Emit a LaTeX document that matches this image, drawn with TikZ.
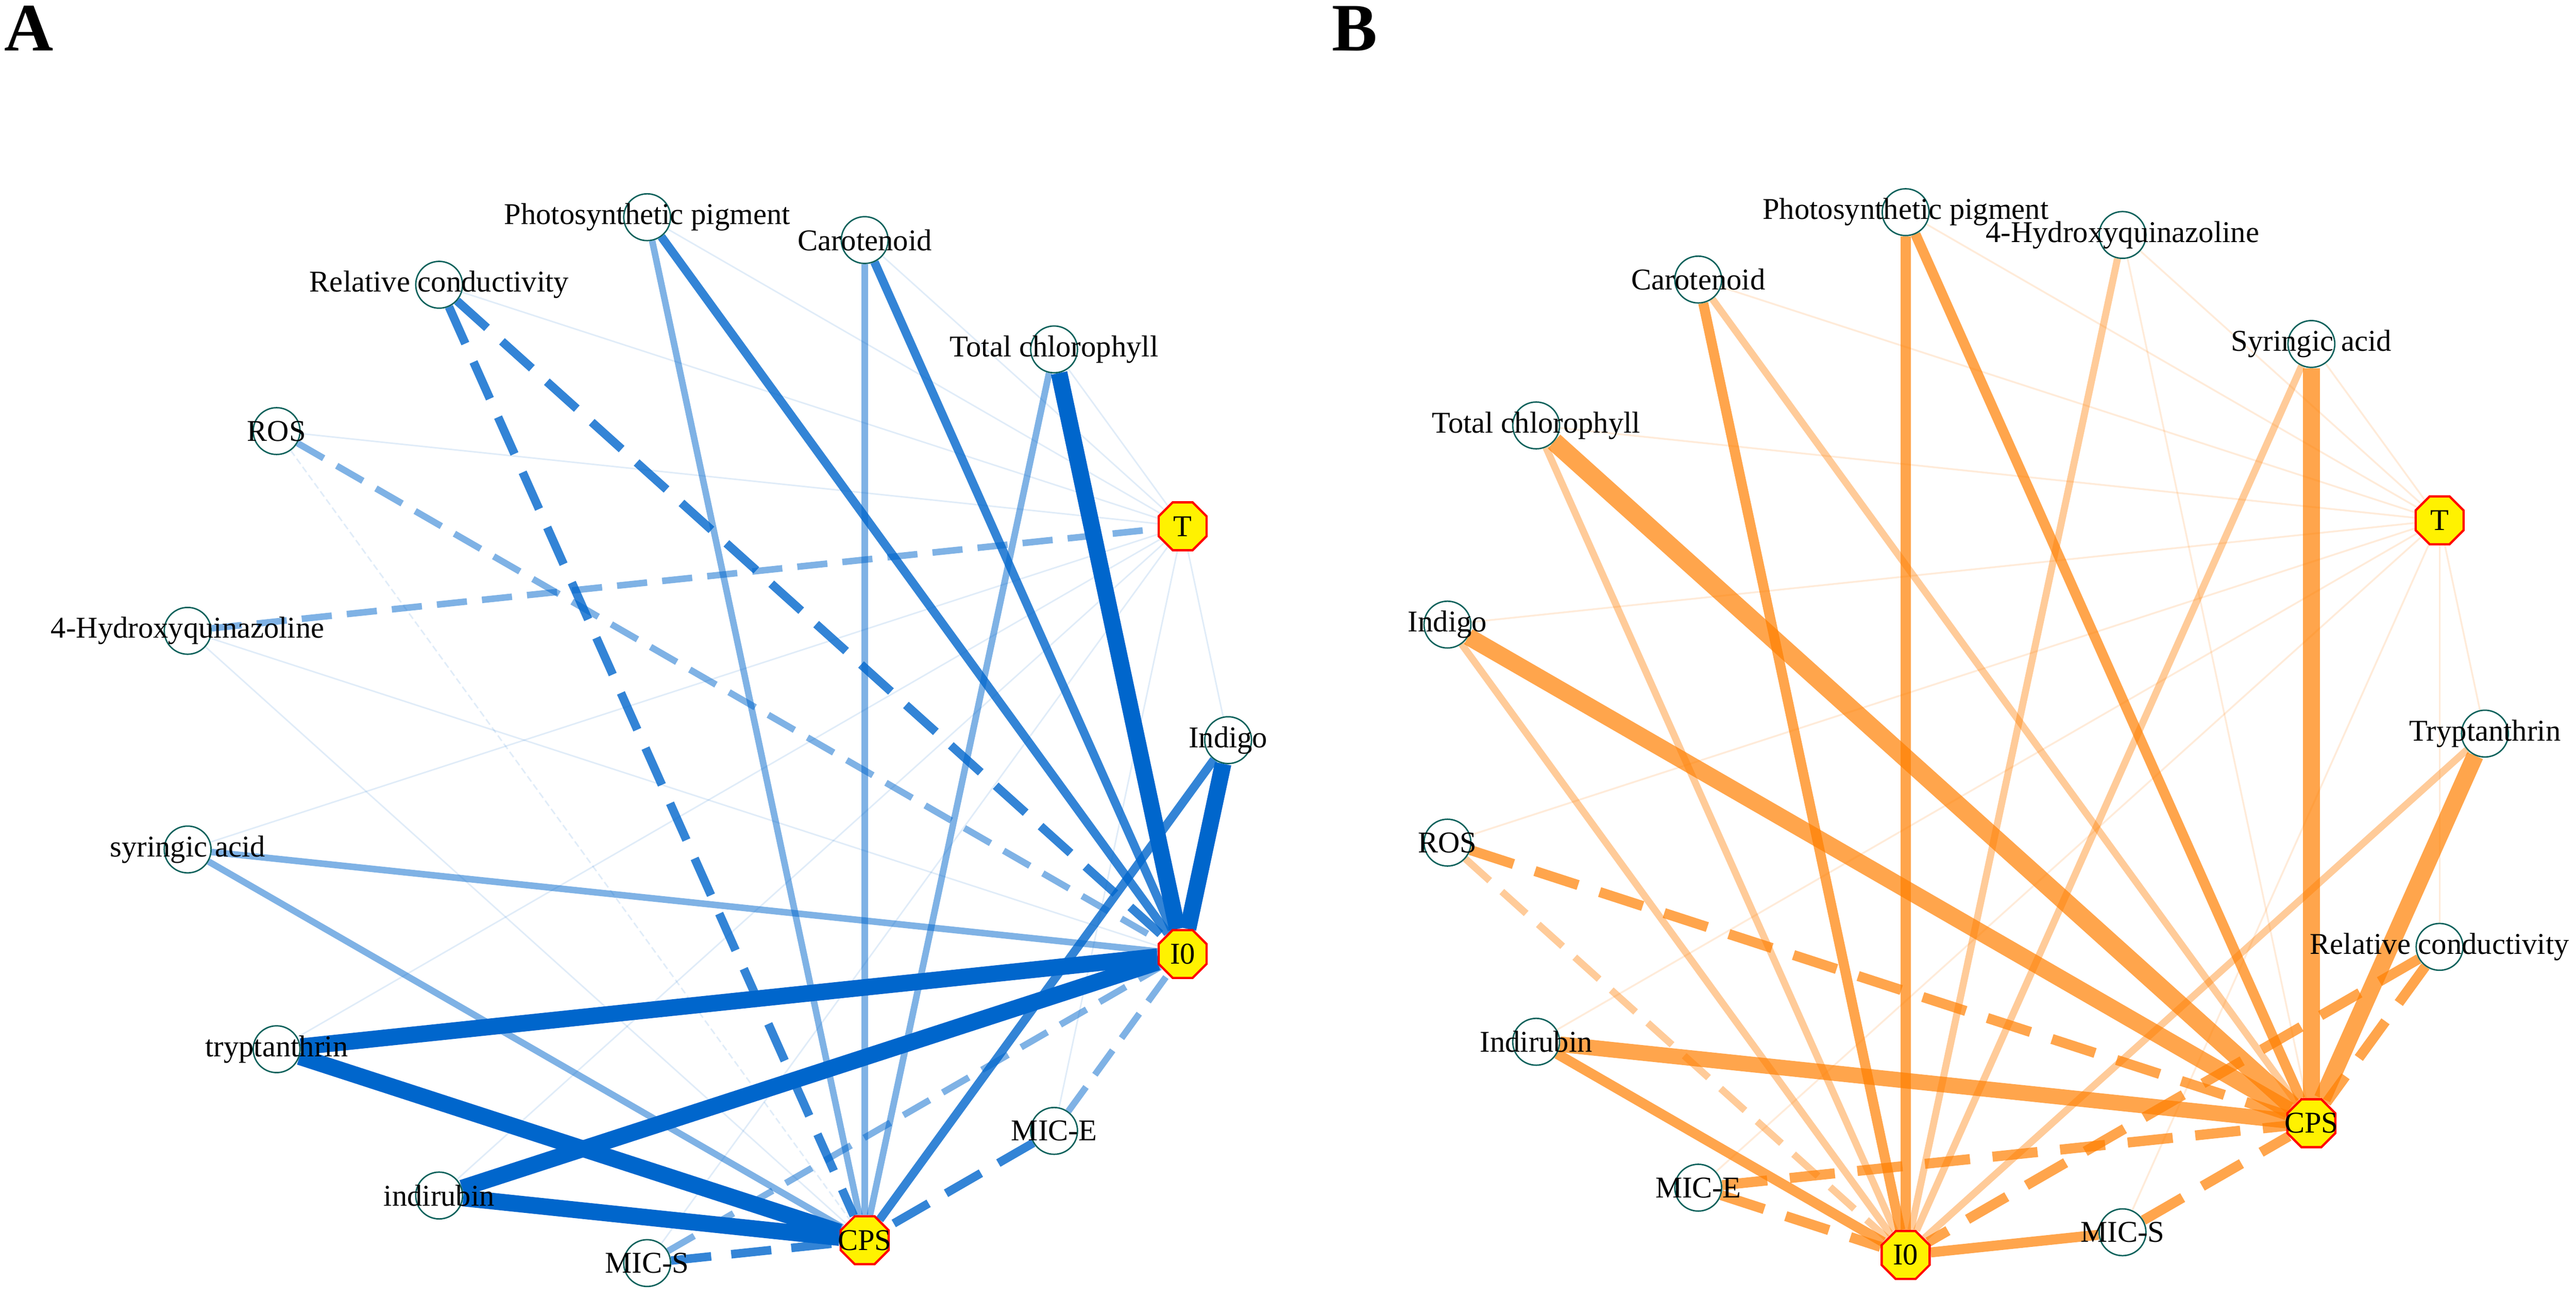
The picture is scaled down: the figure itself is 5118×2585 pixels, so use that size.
\documentclass[tikz,border=0pt]{standalone}
\usepackage{fontspec}
\setmainfont{Liberation Serif}
\usetikzlibrary{shapes.geometric,calc,backgrounds}
\definecolor{edgeblue}{RGB}{0,102,204}
\definecolor{edgeorange}{RGB}{255,127,0}
\definecolor{ringteal}{RGB}{11,97,91}
\tikzset{
  var/.style={circle,draw=ringteal,line width=0.56pt,minimum size=18.6pt,inner sep=0pt},
  trait/.style={regular polygon,regular polygon sides=8,draw=red,fill=yellow,line width=0.9pt,minimum size=20.6pt,inner sep=0pt},
  pA1/.style={draw=edgeblue,line width=6.6pt},
  pA2/.style={draw=edgeblue,draw opacity=0.8,line width=3.4pt},
  pA3/.style={draw=edgeblue,draw opacity=0.5,line width=2.6pt},
  pA4/.style={draw=edgeblue,draw opacity=0.12,line width=0.6pt},
  negA2/.style={dash pattern=on 16pt off 8pt},
  negA3/.style={dash pattern=on 12pt off 6pt},
  negA4/.style={dash pattern=on 2.6pt off 1.4pt},
  pB1/.style={draw=edgeorange,draw opacity=0.7,line width=6.8pt},
  pB2/.style={draw=edgeorange,draw opacity=0.7,line width=4pt},
  pB3/.style={draw=edgeorange,draw opacity=0.4,line width=2.8pt},
  pB4/.style={draw=edgeorange,draw opacity=0.15,line width=0.7pt},
  negB2/.style={dash pattern=on 18pt off 9pt},
  negB3/.style={dash pattern=on 13pt off 6.5pt},
}
\begin{document}
\begin{tikzpicture}[x=0.2pt,y=0.2pt,font=\fontsize{12}{14}\selectfont]
\useasboundingbox (0,0) rectangle (5118,2585);
\node[anchor=base west,inner sep=0pt,font=\fontsize{27}{30}\selectfont\bfseries] (lblA) at (8,2484) {A};
\node[anchor=base west,inner sep=0pt,font=\fontsize{27}{30}\selectfont\bfseries] (lblB) at (2645,2484) {B};
\coordinate (cA) at (1395,1114);
\coordinate (cB) at (3895,1127);
% panel A
\foreach \ang/\nm/\txt in {0/aInd/Indigo,48/aTch/Total chlorophyll,72/aCar/Carotenoid,96/aPp/Photosynthetic pigment,120/aRc/Relative conductivity,144/aRos/ROS,168/aHq/4-Hydroxyquinazoline,192/aSa/syringic acid,216/aTry/tryptanthrin,240/aIdr/indirubin,264/aMs/MIC-S,312/aMe/MIC-E}
  \node[var,label=center:\txt] (\nm) at ($(cA)+(\ang:1045)$) {};
\node[trait,label=center:T] (aT) at ($(cA)+(24:1045)$) {};
\node[trait,label=center:CPS] (aCps) at ($(cA)+(288:1045)$) {};
\node[trait,label=center:I0] (aIo) at ($(cA)+(336:1045)$) {};
% panel B
\foreach \ang/\nm/\txt in {0/bTry/Tryptanthrin,48/bSa/Syringic acid,72/bHq/4-Hydroxyquinazoline,96/bPp/Photosynthetic pigment,120/bCar/Carotenoid,144/bTch/Total chlorophyll,168/bInd/Indigo,192/bRos/ROS,216/bIdr/Indirubin,240/bMe/MIC-E,288/bMs/MIC-S,336/bRc/Relative conductivity}
  \node[var,label=center:\txt] (\nm) at ($(cB)+(\ang:1042)$) {};
\node[trait,label=center:T] (bT) at ($(cB)+(24:1042)$) {};
\node[trait,label=center:I0] (bIo) at ($(cB)+(264:1042)$) {};
\node[trait,label=center:CPS] (bCps) at ($(cB)+(312:1042)$) {};
\begin{scope}[on background layer]
\fill[white] (0,0) rectangle (5118,2585);
% A edges
\foreach \v in {aInd,aTch,aCar,aPp,aRc,aRos,aSa,aTry,aIdr,aMs,aMe}
  \draw[pA4] (\v) -- (aT);
\draw[pA4] (aHq) -- (aIo);
\draw[pA4] (aHq) -- (aCps);
\draw[pA4,negA4] (aRos) -- (aCps);
\draw[pA3] (aPp) -- (aCps);
\draw[pA3] (aCar) -- (aCps);
\draw[pA3] (aTch) -- (aCps);
\draw[pA3] (aSa) -- (aIo);
\draw[pA3] (aSa) -- (aCps);
\draw[pA3,negA3] (aHq) -- (aT);
\draw[pA3,negA3] (aRos) -- (aIo);
\draw[pA3,negA3] (aMs) -- (aIo);
\draw[pA3,negA3] (aMe) -- (aIo);
\draw[pA2] (aPp) -- (aIo);
\draw[pA2] (aCar) -- (aIo);
\draw[pA2] (aInd) -- (aCps);
\draw[pA2,negA2] (aRc) -- (aIo);
\draw[pA2,negA2] (aRc) -- (aCps);
\draw[pA2,negA2] (aMe) -- (aCps);
\draw[pA2,negA2] (aMs) -- (aCps);
\draw[pA1] (aTch) -- (aIo);
\draw[pA1] (aInd) -- (aIo);
\draw[pA1] (aTry) -- (aIo);
\draw[pA1] (aIdr) -- (aIo);
\draw[pA1] (aTry) -- (aCps);
\draw[pA1] (aIdr) -- (aCps);
% B edges
\foreach \v in {bTry,bSa,bHq,bPp,bCar,bTch,bInd,bRos,bIdr,bMe,bMs,bRc}
  \draw[pB4] (\v) -- (bT);
\draw[pB4] (bHq) -- (bCps);
\draw[pB3] (bCar) -- (bCps);
\draw[pB3] (bTch) -- (bIo);
\draw[pB3] (bInd) -- (bIo);
\draw[pB3] (bHq) -- (bIo);
\draw[pB3] (bSa) -- (bIo);
\draw[pB3] (bTry) -- (bIo);
\draw[pB3,negB3] (bRos) -- (bIo);
\draw[pB2] (bPp) -- (bIo);
\draw[pB2] (bPp) -- (bCps);
\draw[pB2] (bCar) -- (bIo);
\draw[pB2] (bIdr) -- (bIo);
\draw[pB2] (bMs) -- (bIo);
\draw[pB2,negB2] (bRos) -- (bCps);
\draw[pB2,negB2] (bMe) -- (bCps);
\draw[pB2,negB2] (bMe) -- (bIo);
\draw[pB2,negB2] (bRc) -- (bIo);
\draw[pB2,negB2] (bRc) -- (bCps);
\draw[pB2,negB2] (bMs) -- (bCps);
\draw[pB1,line width=7.4pt] (bTch) -- (bCps);
\draw[pB1] (bInd) -- (bCps);
\draw[pB1] (bSa) -- (bCps);
\draw[pB1] (bTry) -- (bCps);
\draw[pB1,line width=6.2pt] (bIdr) -- (bCps);
\end{scope}
\end{tikzpicture}
\end{document}
